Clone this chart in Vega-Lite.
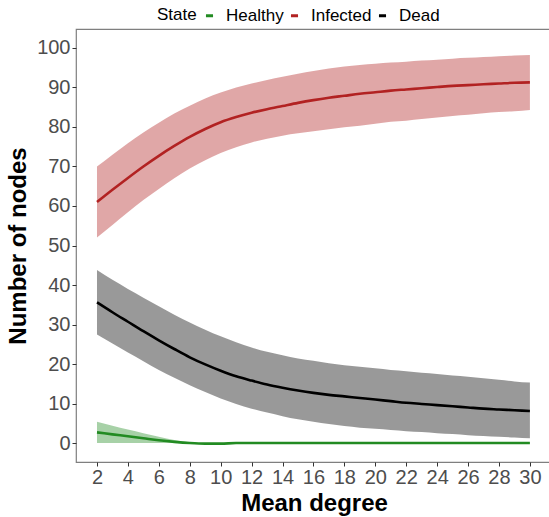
{
  "$schema": "https://vega.github.io/schema/vega-lite/v6.json",
  "width": 476,
  "height": 433,
  "autosize": {"type": "none"},
  "padding": {"left": 76, "top": 29, "right": 0, "bottom": 55},
  "background": "white",
  "config": {
    "font": "Liberation Sans",
    "view": {"stroke": "#7F7F7F", "strokeWidth": 1.2},
    "axis": {
      "grid": false,
      "domain": false,
      "tickColor": "#333333",
      "tickSize": 4,
      "tickWidth": 1,
      "labelFont": "Liberation Sans",
      "labelFontSize": 20,
      "labelColor": "#4D4D4D",
      "titleFont": "Liberation Sans",
      "titleFontSize": 24,
      "titleFontWeight": "bold",
      "titleColor": "#000000"
    }
  },
  "data": {
    "values": [
      {"x": 2, "State": "Infected", "mean": 61.0, "lo": 52.0, "hi": 70.0},
      {"x": 3, "State": "Infected", "mean": 64.1, "lo": 55.2, "hi": 73.0},
      {"x": 4, "State": "Infected", "mean": 67.1, "lo": 58.4, "hi": 75.9},
      {"x": 5, "State": "Infected", "mean": 70.0, "lo": 61.5, "hi": 78.6},
      {"x": 6, "State": "Infected", "mean": 72.7, "lo": 64.3, "hi": 81.1},
      {"x": 7, "State": "Infected", "mean": 75.2, "lo": 67.0, "hi": 83.4},
      {"x": 8, "State": "Infected", "mean": 77.5, "lo": 69.5, "hi": 85.4},
      {"x": 9, "State": "Infected", "mean": 79.5, "lo": 71.6, "hi": 87.2},
      {"x": 10, "State": "Infected", "mean": 81.2, "lo": 73.4, "hi": 88.7},
      {"x": 11, "State": "Infected", "mean": 82.5, "lo": 74.9, "hi": 90.0},
      {"x": 12, "State": "Infected", "mean": 83.6, "lo": 76.1, "hi": 91.0},
      {"x": 13, "State": "Infected", "mean": 84.5, "lo": 77.0, "hi": 91.9},
      {"x": 14, "State": "Infected", "mean": 85.3, "lo": 77.8, "hi": 92.7},
      {"x": 15, "State": "Infected", "mean": 86.1, "lo": 78.4, "hi": 93.5},
      {"x": 16, "State": "Infected", "mean": 86.8, "lo": 78.9, "hi": 94.2},
      {"x": 17, "State": "Infected", "mean": 87.4, "lo": 79.4, "hi": 94.8},
      {"x": 18, "State": "Infected", "mean": 87.9, "lo": 79.9, "hi": 95.3},
      {"x": 19, "State": "Infected", "mean": 88.4, "lo": 80.3, "hi": 95.7},
      {"x": 20, "State": "Infected", "mean": 88.8, "lo": 80.8, "hi": 96.0},
      {"x": 21, "State": "Infected", "mean": 89.2, "lo": 81.3, "hi": 96.3},
      {"x": 22, "State": "Infected", "mean": 89.5, "lo": 81.6, "hi": 96.5},
      {"x": 23, "State": "Infected", "mean": 89.8, "lo": 82.0, "hi": 96.8},
      {"x": 24, "State": "Infected", "mean": 90.1, "lo": 82.4, "hi": 97.0},
      {"x": 25, "State": "Infected", "mean": 90.4, "lo": 82.8, "hi": 97.3},
      {"x": 26, "State": "Infected", "mean": 90.6, "lo": 83.1, "hi": 97.5},
      {"x": 27, "State": "Infected", "mean": 90.8, "lo": 83.5, "hi": 97.7},
      {"x": 28, "State": "Infected", "mean": 91.0, "lo": 83.8, "hi": 97.9},
      {"x": 29, "State": "Infected", "mean": 91.2, "lo": 84.0, "hi": 98.1},
      {"x": 30, "State": "Infected", "mean": 91.3, "lo": 84.3, "hi": 98.2},
      {"x": 2, "State": "Dead", "mean": 35.6, "lo": 27.5, "hi": 43.8},
      {"x": 3, "State": "Dead", "mean": 33.1, "lo": 25.2, "hi": 41.3},
      {"x": 4, "State": "Dead", "mean": 30.7, "lo": 22.9, "hi": 39.0},
      {"x": 5, "State": "Dead", "mean": 28.3, "lo": 20.7, "hi": 36.8},
      {"x": 6, "State": "Dead", "mean": 26.0, "lo": 18.5, "hi": 34.6},
      {"x": 7, "State": "Dead", "mean": 23.8, "lo": 16.5, "hi": 32.5},
      {"x": 8, "State": "Dead", "mean": 21.7, "lo": 14.6, "hi": 30.5},
      {"x": 9, "State": "Dead", "mean": 19.9, "lo": 12.9, "hi": 28.7},
      {"x": 10, "State": "Dead", "mean": 18.3, "lo": 11.3, "hi": 27.0},
      {"x": 11, "State": "Dead", "mean": 16.9, "lo": 9.9, "hi": 25.5},
      {"x": 12, "State": "Dead", "mean": 15.8, "lo": 8.7, "hi": 24.2},
      {"x": 13, "State": "Dead", "mean": 14.8, "lo": 7.7, "hi": 23.1},
      {"x": 14, "State": "Dead", "mean": 14.0, "lo": 6.8, "hi": 22.2},
      {"x": 15, "State": "Dead", "mean": 13.3, "lo": 6.0, "hi": 21.4},
      {"x": 16, "State": "Dead", "mean": 12.7, "lo": 5.4, "hi": 20.8},
      {"x": 17, "State": "Dead", "mean": 12.2, "lo": 4.8, "hi": 20.2},
      {"x": 18, "State": "Dead", "mean": 11.8, "lo": 4.3, "hi": 19.7},
      {"x": 19, "State": "Dead", "mean": 11.4, "lo": 3.9, "hi": 19.3},
      {"x": 20, "State": "Dead", "mean": 11.0, "lo": 3.6, "hi": 18.9},
      {"x": 21, "State": "Dead", "mean": 10.6, "lo": 3.3, "hi": 18.5},
      {"x": 22, "State": "Dead", "mean": 10.2, "lo": 3.0, "hi": 18.2},
      {"x": 23, "State": "Dead", "mean": 9.9, "lo": 2.8, "hi": 17.8},
      {"x": 24, "State": "Dead", "mean": 9.6, "lo": 2.5, "hi": 17.5},
      {"x": 25, "State": "Dead", "mean": 9.3, "lo": 2.3, "hi": 17.1},
      {"x": 26, "State": "Dead", "mean": 9.0, "lo": 2.0, "hi": 16.8},
      {"x": 27, "State": "Dead", "mean": 8.7, "lo": 1.8, "hi": 16.4},
      {"x": 28, "State": "Dead", "mean": 8.5, "lo": 1.6, "hi": 16.0},
      {"x": 29, "State": "Dead", "mean": 8.3, "lo": 1.4, "hi": 15.6},
      {"x": 30, "State": "Dead", "mean": 8.1, "lo": 1.2, "hi": 15.3},
      {"x": 2, "State": "Healthy", "mean": 2.7, "lo": 0.0, "hi": 5.4},
      {"x": 3, "State": "Healthy", "mean": 2.2, "lo": 0.0, "hi": 4.4},
      {"x": 4, "State": "Healthy", "mean": 1.7, "lo": 0.0, "hi": 3.4},
      {"x": 5, "State": "Healthy", "mean": 1.2, "lo": 0.0, "hi": 2.5},
      {"x": 6, "State": "Healthy", "mean": 0.7, "lo": 0.0, "hi": 1.6},
      {"x": 7, "State": "Healthy", "mean": 0.3, "lo": 0.0, "hi": 0.8},
      {"x": 8, "State": "Healthy", "mean": 0.0, "lo": 0.0, "hi": 0.2},
      {"x": 9, "State": "Healthy", "mean": -0.15, "lo": -0.15, "hi": -0.15},
      {"x": 10, "State": "Healthy", "mean": -0.15, "lo": -0.15, "hi": -0.15},
      {"x": 11, "State": "Healthy", "mean": 0.0, "lo": 0.0, "hi": 0.0},
      {"x": 12, "State": "Healthy", "mean": 0.0, "lo": 0.0, "hi": 0.0},
      {"x": 14, "State": "Healthy", "mean": 0.0, "lo": 0.0, "hi": 0.0},
      {"x": 16, "State": "Healthy", "mean": 0.0, "lo": 0.0, "hi": 0.0},
      {"x": 18, "State": "Healthy", "mean": 0.0, "lo": 0.0, "hi": 0.0},
      {"x": 20, "State": "Healthy", "mean": 0.0, "lo": 0.0, "hi": 0.0},
      {"x": 22, "State": "Healthy", "mean": 0.0, "lo": 0.0, "hi": 0.0},
      {"x": 24, "State": "Healthy", "mean": 0.0, "lo": 0.0, "hi": 0.0},
      {"x": 26, "State": "Healthy", "mean": 0.0, "lo": 0.0, "hi": 0.0},
      {"x": 28, "State": "Healthy", "mean": 0.0, "lo": 0.0, "hi": 0.0},
      {"x": 30, "State": "Healthy", "mean": 0.0, "lo": 0.0, "hi": 0.0}
    ]
  },
  "encoding": {
    "x": {
      "field": "x",
      "type": "quantitative",
      "title": "Mean degree",
      "scale": {"domain": [0.642, 31.43], "nice": false, "zero": false},
      "axis": {"values": [2, 4, 6, 8, 10, 12, 14, 16, 18, 20, 22, 24, 26, 28, 30], "labelPadding": 1, "titlePadding": 4}
    },
    "color": {
      "field": "State",
      "type": "nominal",
      "scale": {"domain": ["Healthy", "Infected", "Dead"], "range": ["#228B22", "#B22222", "#000000"]},
      "legend": {
        "orient": "none",
        "legendX": 81,
        "legendY": -22,
        "direction": "horizontal",
        "title": "State",
        "titleOrient": "left",
        "titleFontSize": 17,
        "titleFontWeight": "normal",
        "titleColor": "#000000",
        "titleFont": "Liberation Sans",
        "titlePadding": 4,
        "labelFontSize": 17,
        "labelColor": "#000000",
        "labelFont": "Liberation Sans",
        "labelOffset": 8,
        "columnPadding": 0,
        "symbolType": "stroke",
        "symbolSize": 50,
        "symbolStrokeWidth": 3,
        "symbolOpacity": 1
      }
    }
  },
  "layer": [
    {
      "mark": {"type": "area", "opacity": 0.4, "interpolate": "monotone"},
      "encoding": {
        "y": {
          "field": "lo",
          "type": "quantitative",
          "title": "Number of nodes",
          "scale": {"domain": [-4.8, 104.8], "nice": false, "zero": false},
          "axis": {"values": [0, 10, 20, 30, 40, 50, 60, 70, 80, 90, 100], "labelPadding": 2, "titlePadding": 6}
        },
        "y2": {"field": "hi"}
      }
    },
    {
      "mark": {"type": "line", "strokeWidth": 2.6, "interpolate": "monotone"},
      "encoding": {
        "y": {"field": "mean", "type": "quantitative"}
      }
    }
  ]
}
